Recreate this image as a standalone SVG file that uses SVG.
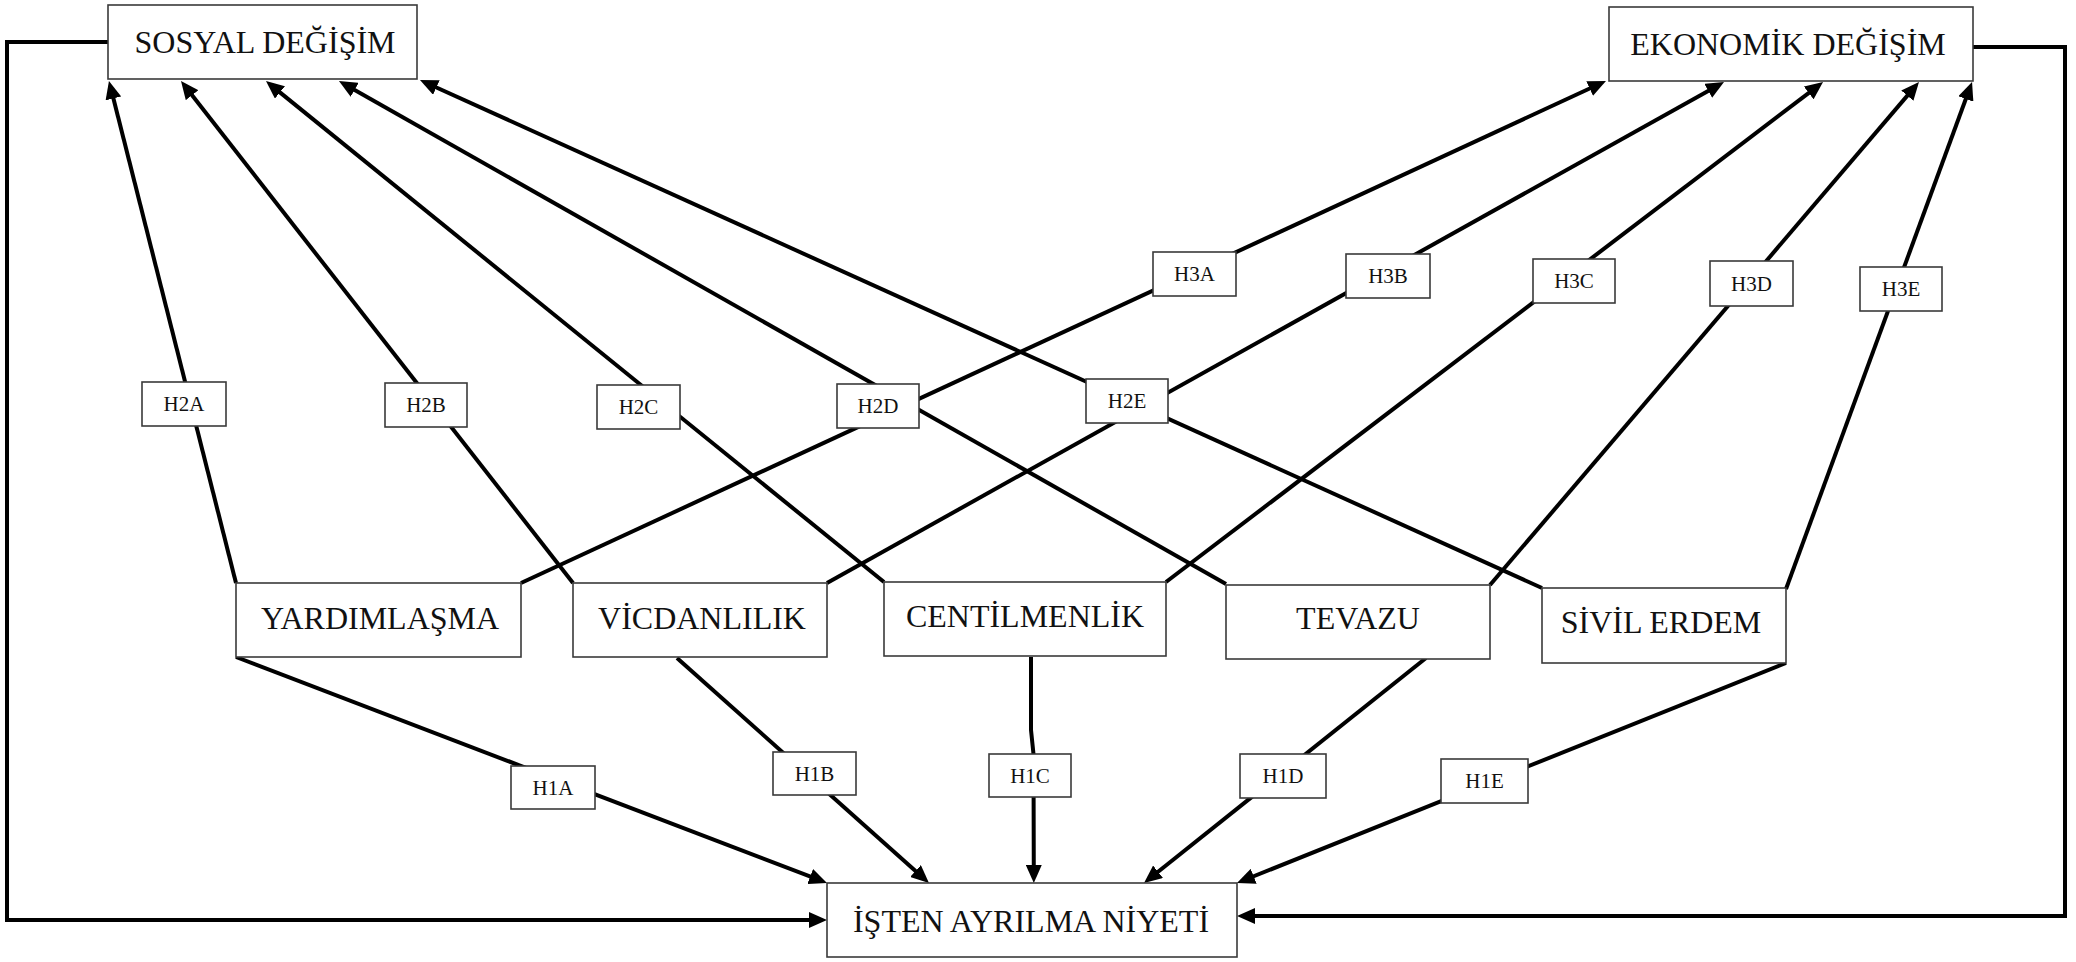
<svg xmlns="http://www.w3.org/2000/svg" width="2076" height="962" viewBox="0 0 2076 962">
  <style>
    .box { fill: #ffffff; stroke: #3a3a3a; stroke-width: 1.6; }
    .tag { fill: #ffffff; stroke: #3a3a3a; stroke-width: 1.6; }
    .edge { fill: none; stroke: #000000; stroke-width: 4; stroke-linejoin: miter; }
    .title { font-family: "Liberation Serif", "Times New Roman", serif; font-size: 32px; fill: #111111; text-anchor: middle; }
    .code { font-family: "Liberation Serif", "Times New Roman", serif; font-size: 21px; fill: #111111; text-anchor: middle; }
  </style>
  <defs>
    <marker id="head" markerUnits="userSpaceOnUse" markerWidth="18" markerHeight="16" refX="6" refY="8" orient="auto">
      <path d="M0,0 L18,8 L0,16 Z" fill="#000000"/>
    </marker>
  </defs>
  <rect width="2076" height="962" fill="#ffffff"/>

  <!-- connectors -->
  <g id="connectors">
    <!-- H2: behaviours to social change -->
    <path class="edge" marker-end="url(#head)" d="M236,583 L111.9,92.6"/>
    <path class="edge" marker-end="url(#head)" d="M573,583 L188.4,90.5"/>
    <path class="edge" marker-end="url(#head)" d="M884,582 L275.3,88.6"/>
    <path class="edge" marker-end="url(#head)" d="M1226,584 L349.4,86.9"/>
    <path class="edge" marker-end="url(#head)" d="M1542,588 L430.9,85"/>
    <!-- H3: behaviours to economic change -->
    <path class="edge" marker-end="url(#head)" d="M521,583 L1595.1,86"/>
    <path class="edge" marker-end="url(#head)" d="M827,583 L1713.5,87.9"/>
    <path class="edge" marker-end="url(#head)" d="M1166,582 L1813.5,89.3"/>
    <path class="edge" marker-end="url(#head)" d="M1490,585 L1911.2,91.1"/>
    <path class="edge" marker-end="url(#head)" d="M1786,589 L1967.9,93.3"/>
    <!-- H1: behaviours to turnover intention -->
    <path class="edge" marker-end="url(#head)" d="M236,657 L815.8,878.7"/>
    <path class="edge" marker-end="url(#head)" d="M677,658 L920,875"/>
    <path class="edge" marker-end="url(#head)" d="M1031,657 L1031,730 L1033.5,754 L1033.8,871"/>
    <path class="edge" marker-end="url(#head)" d="M1426,658 L1153.4,875.5"/>
    <path class="edge" marker-end="url(#head)" d="M1786,663 L1248.1,878.5"/>
    <!-- feedback paths -->
    <path class="edge" marker-end="url(#head)" d="M108,42 H7 V920 H815"/>
    <path class="edge" marker-end="url(#head)" d="M1973,47 H2065 V916 H1249"/>
  </g>

  <!-- hypothesis tags -->
  <g id="tags">
    <g id="tag-h2a"><rect class="tag" x="142" y="382" width="84" height="44"/><text class="code" x="184" y="411">H2A</text></g>
    <g id="tag-h2b"><rect class="tag" x="385" y="383" width="82" height="44"/><text class="code" x="426" y="412">H2B</text></g>
    <g id="tag-h2c"><rect class="tag" x="597" y="385" width="83" height="44"/><text class="code" x="638.5" y="414">H2C</text></g>
    <g id="tag-h2d"><rect class="tag" x="837" y="384" width="82" height="44"/><text class="code" x="878" y="413">H2D</text></g>
    <g id="tag-h2e"><rect class="tag" x="1086" y="379" width="82" height="44"/><text class="code" x="1127" y="408">H2E</text></g>
    <g id="tag-h3a"><rect class="tag" x="1153" y="252" width="83" height="44"/><text class="code" x="1194.5" y="281">H3A</text></g>
    <g id="tag-h3b"><rect class="tag" x="1346" y="254" width="84" height="44"/><text class="code" x="1388" y="283">H3B</text></g>
    <g id="tag-h3c"><rect class="tag" x="1533" y="259" width="82" height="44"/><text class="code" x="1574" y="288">H3C</text></g>
    <g id="tag-h3d"><rect class="tag" x="1710" y="261" width="83" height="45"/><text class="code" x="1751.5" y="291">H3D</text></g>
    <g id="tag-h3e"><rect class="tag" x="1860" y="267" width="82" height="44"/><text class="code" x="1901" y="296">H3E</text></g>
    <g id="tag-h1a"><rect class="tag" x="511" y="766" width="84" height="43"/><text class="code" x="553" y="795">H1A</text></g>
    <g id="tag-h1b"><rect class="tag" x="773" y="752" width="83" height="43"/><text class="code" x="814.5" y="781">H1B</text></g>
    <g id="tag-h1c"><rect class="tag" x="989" y="754" width="82" height="43"/><text class="code" x="1030" y="783">H1C</text></g>
    <g id="tag-h1d"><rect class="tag" x="1240" y="754" width="86" height="44"/><text class="code" x="1283" y="783">H1D</text></g>
    <g id="tag-h1e"><rect class="tag" x="1441" y="759" width="87" height="44"/><text class="code" x="1484.5" y="788">H1E</text></g>
  </g>

  <!-- outcome nodes -->
  <g id="sosyal-degisim"><rect class="box" x="108" y="5" width="309" height="74"/><text class="title" x="265" y="53">SOSYAL DEĞİŞİM</text></g>
  <g id="ekonomik-degisim"><rect class="box" x="1609" y="7" width="364" height="74"/><text class="title" x="1788" y="55">EKONOMİK DEĞİŞİM</text></g>

  <!-- behaviour nodes -->
  <g id="yardimlasma"><rect class="box" x="236" y="583" width="285" height="74"/><text class="title" x="380" y="629">YARDIMLAŞMA</text></g>
  <g id="vicdanlilik"><rect class="box" x="573" y="583" width="254" height="74"/><text class="title" x="702" y="629">VİCDANLILIK</text></g>
  <g id="centilmenlik"><rect class="box" x="884" y="582" width="282" height="74"/><text class="title" x="1025" y="627">CENTİLMENLİK</text></g>
  <g id="tevazu"><rect class="box" x="1226" y="585" width="264" height="74"/><text class="title" x="1358" y="629">TEVAZU</text></g>
  <g id="sivil-erdem"><rect class="box" x="1542" y="588" width="244" height="75"/><text class="title" x="1661" y="633">SİVİL ERDEM</text></g>

  <!-- turnover intention -->
  <g id="isten-ayrilma-niyeti"><rect class="box" x="827" y="883" width="410" height="74"/><text class="title" x="1031" y="932">İŞTEN AYRILMA NİYETİ</text></g>
</svg>
